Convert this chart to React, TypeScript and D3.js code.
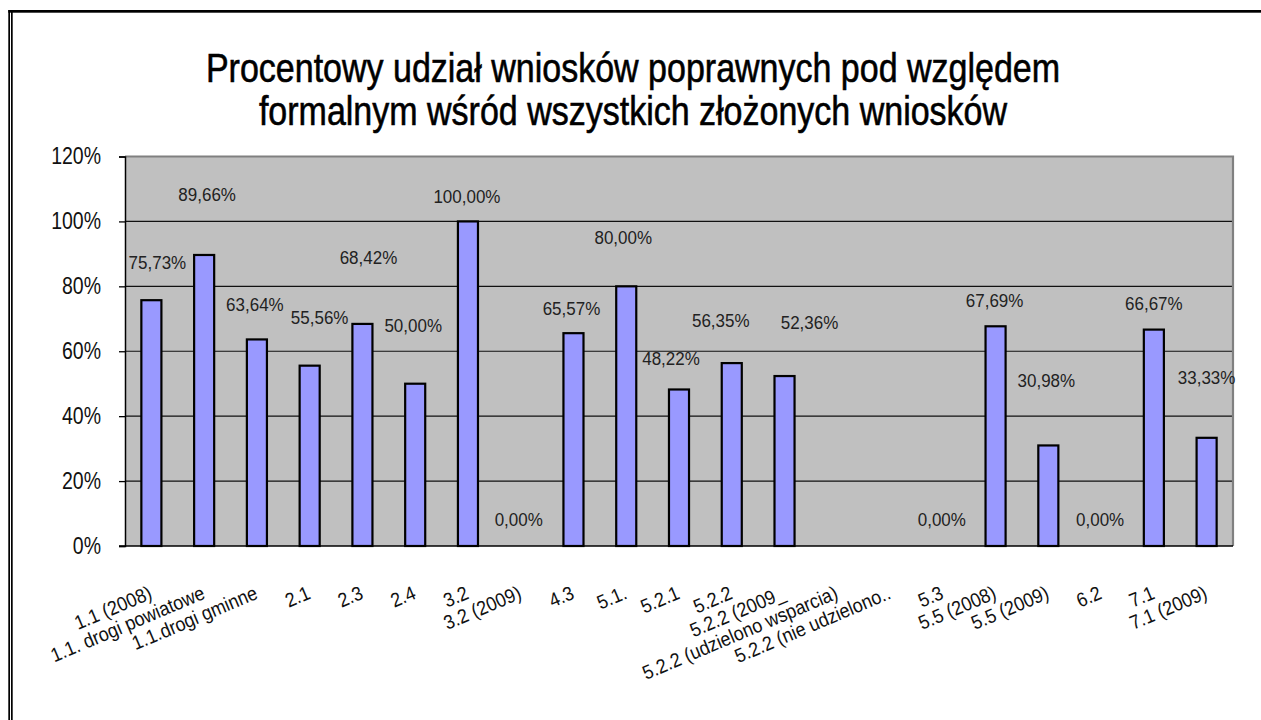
import React from 'react'
import * as d3 from 'd3'

const categories: string[] = [
  '1.1 (2008)', '1.1. drogi powiatowe', '1.1.drogi gminne', '2.1', '2.3', '2.4',
  '3.2', '3.2 (2009)', '4.3', '5.1.', '5.2.1', '5.2.2', '5.2.2 (2009_',
  '5.2.2 (udzielono wsparcia)', '5.2.2 (nie udzielono..', '5.3', '5.5 (2008)',
  '5.5 (2009)', '6.2', '7.1', '7.1 (2009)',
]

const shares: (number | null)[] = [
  75.73, 89.66, 63.64, 55.56, 68.42, 50.0, 100.0, 0.0, 65.57, 80.0, 48.22,
  56.35, 52.36, null, null, 0.0, 67.69, 30.98, 0.0, 66.67, 33.33,
]

const yTicks: number[] = [0, 20, 40, 60, 80, 100, 120]

const titleLines: string[] = [
  'Procentowy udział wniosków poprawnych pod względem',
  'formalnym  wśród wszystkich złożonych wniosków',
]

// data labels were dragged around by hand in the original, px nudges
const labelNudge: [number, number][] = [
  [6, -12], [3, -35], [-2, -9], [10, -22], [6, -41], [-2, -32], [-1, 1], [-2, -1],
  [-2, 1], [-3, -23], [-8, -5], [-11, -17], [25, -28], [0, 0], [0, 0], [-1, -1],
  [-1, 0], [-2, -39], [-1, -1], [0, 0], [0, -34],
]

const W = 1261
const H = 720
const FONT = '"Liberation Sans", Arial, sans-serif'
const STRETCH = 1.18

const fmt = (v: number) => `${v.toFixed(2).replace('.', ',')}%`

const App = () => {
  const svgRef = React.useRef<SVGSVGElement | null>(null)

  React.useEffect(() => {
    const svg = d3.select(svgRef.current)
    svg.selectAll('*').remove()

    const left = 125
    const right = 1233
    const top = 156.5
    const bottom = 546

    const x = d3.scaleBand<string>().domain(categories).range([left, right])
    const y = d3.scaleLinear().domain([0, 120]).range([bottom, top])
    const barW = x.bandwidth() * 0.38
    const cx = (c: string) => (x(c) as number) + x.bandwidth() / 2

    svg.append('rect').attr('width', W).attr('height', H).attr('fill', '#fff')

    // outer frame (cropped on the right and bottom)
    svg.append('rect').attr('x', 8.3).attr('y', 10).attr('width', W).attr('height', 2.7).attr('fill', '#000')
    svg.append('rect').attr('x', 8.3).attr('y', 10).attr('width', 1.7).attr('height', H).attr('fill', '#000')
    svg.append('rect').attr('x', 11).attr('y', 10).attr('width', 1.7).attr('height', H).attr('fill', '#000')

    // title
    svg.append('g')
      .selectAll('text')
      .data(titleLines)
      .join('text')
      .attr('transform', (d, i) => `translate(633,${82 + i * 43}) scale(1,1.17)`)
      .attr('text-anchor', 'middle')
      .style('font-family', FONT)
      .style('font-size', '34px')
      .attr('fill', '#000')
      .attr('stroke', '#000')
      .attr('stroke-width', 0.5)
      .text((d) => d)

    // plot area
    svg.append('rect')
      .attr('x', left).attr('y', top)
      .attr('width', right - left).attr('height', bottom - top)
      .attr('fill', '#c0c0c0')

    svg.append('g')
      .selectAll('line')
      .data(yTicks.filter((t) => t > 0 && t < 120))
      .join('line')
      .attr('x1', left).attr('x2', right)
      .attr('y1', (d) => y(d)).attr('y2', (d) => y(d))
      .attr('stroke', '#111').attr('stroke-width', 1.2)

    svg.append('path')
      .attr('d', `M${left},${top}H${right}V${bottom}`)
      .attr('fill', 'none').attr('stroke', '#808080').attr('stroke-width', 2.2)

    // bars
    svg.append('g')
      .selectAll('rect')
      .data(categories.map((c, i) => ({ c, v: shares[i] })).filter((d) => d.v !== null && (d.v as number) > 0))
      .join('rect')
      .attr('x', (d) => cx(d.c) - barW / 2)
      .attr('y', (d) => y(d.v as number))
      .attr('width', barW)
      .attr('height', (d) => bottom - y(d.v as number))
      .attr('fill', '#9999ff')
      .attr('stroke', '#000').attr('stroke-width', 2.2)

    // y axis
    const yAxis = svg.append('g')
      .attr('transform', `translate(${left},0)`)
      .call(d3.axisLeft(y).tickValues(yTicks).tickSize(6).tickPadding(18).tickFormat((d) => `${d}%`))
    yAxis.select('.domain').attr('stroke', '#000').attr('stroke-width', 1.5)
    yAxis.selectAll('.tick line').attr('stroke', '#000').attr('stroke-width', 1.3)
    yAxis.selectAll('.tick text')
      .attr('transform', `scale(1,${STRETCH})`)
      .style('font-family', FONT)
      .style('font-size', '19.5px')
      .attr('fill', '#111')

    // x axis baseline
    svg.append('line')
      .attr('x1', left - 6).attr('x2', right)
      .attr('y1', bottom).attr('y2', bottom)
      .attr('stroke', '#000').attr('stroke-width', 1.6)

    // category labels
    svg.append('g')
      .selectAll('text')
      .data(categories)
      .join('text')
      .attr('transform', (d) => `translate(${cx(d) + 2},598) rotate(-23) scale(1,1.1)`)
      .attr('text-anchor', 'end')
      .style('font-family', FONT)
      .style('font-size', '18px')
      .attr('fill', '#111')
      .text((d) => d)

    // data labels
    svg.append('g')
      .selectAll('text')
      .data(categories.map((c, i) => ({ c, v: shares[i], n: labelNudge[i] })).filter((d) => d.v !== null))
      .join('text')
      .attr('transform', (d) => `translate(${cx(d.c) + d.n[0]},${y(d.v as number) - 26 + d.n[1]}) scale(1,1.12)`)
      .attr('text-anchor', 'middle')
      .attr('dy', '0.35em')
      .style('font-family', FONT)
      .style('font-size', '17px')
      .attr('fill', '#222')
      .text((d) => fmt(d.v as number))
  }, [])

  return (
    <svg
      ref={svgRef}
      width={W}
      height={H}
      style={{ position: 'absolute', left: 0, top: 0, display: 'block' }}
    />
  )
}

export default App
